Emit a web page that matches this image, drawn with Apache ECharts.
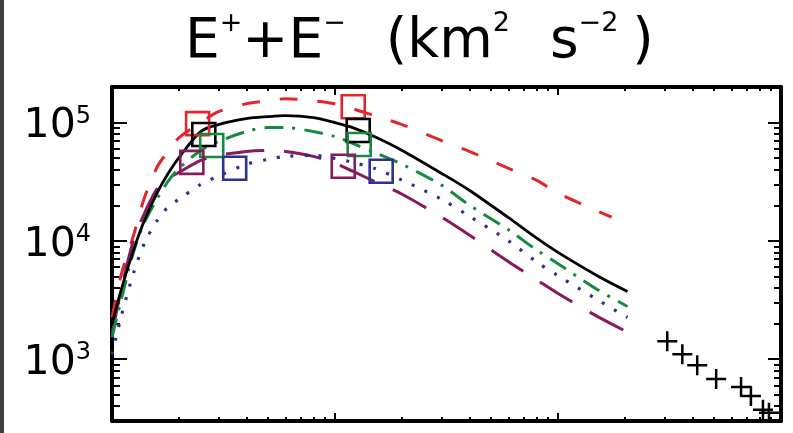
<!DOCTYPE html>
<html><head><meta charset="utf-8">
<script src="https://cdn.jsdelivr.net/npm/echarts@6/dist/echarts.min.js"></script>
<style>html,body{margin:0;padding:0;background:#fff}#c{width:793px;height:433px}</style>
</head><body><div id="c"></div>
<script>
// ---- data ----
const xModel = [1, 1.1, 1.25, 1.4, 1.6, 1.8, 2, 2.5, 3, 4, 5, 6, 8, 10, 12, 15, 20, 30, 40, 60, 80, 100, 150, 205];
const xRed   = [1, 1.1, 1.25, 1.4, 1.6, 1.8, 2, 2.5, 3, 4, 5, 6, 8, 10, 12, 15, 20, 30, 40, 60, 80, 100, 150, 174];
const blackY  = [1970, 3875, 8400, 15000, 25800, 38000, 50800, 84000, 96200, 108000, 112300, 114500, 110200, 100000, 90800, 76300, 58200, 37300, 26800, 15700, 10600, 8000, 5080, 3730];
const redY    = [2250, 5180, 11200, 23400, 42700, 58200, 74800, 100000, 123700, 144400, 153000, 159100, 153000, 144400, 131100, 114500, 96200, 70600, 57100, 41100, 32600, 25300, 17900, 15900];
const greenY  = [1530, 3190, 8080, 14400, 23000, 32600, 41100, 58200, 69200, 84000, 90800, 90800, 84000, 76300, 66600, 56000, 44400, 29600, 20100, 12400, 8400, 6410, 3880, 2790];
const blueY   = [1100, 2300, 5380, 9620, 15000, 19700, 22500, 30100, 35200, 44400, 48900, 51800, 52800, 49800, 46100, 41100, 32600, 22500, 16200, 10000, 6660, 5080, 3190, 2250];
const purpleY = [1620, 3880, 10200, 17200, 27900, 33800, 38000, 47900, 52800, 57100, 58200, 57100, 51800, 45200, 38800, 31900, 24800, 15900, 11200, 6660, 4700, 3590, 2300, 1690];

const sqRed    = [[2.42, 98100], [12.07, 136300]];
const sqBlack  = [[2.58, 79300], [12.71, 85700]];
const sqGreen  = [[2.80, 64100], [12.84, 65300]];
const sqPurple = [[2.28, 46100], [10.89, 42700]];
const sqBlue   = [[3.55, 41100], [16.11, 38800]];

const plusX = [309, 361, 421, 512, 662, 733, 830, 883];
const plusY = [1417, 1102, 890, 679, 582, 489, 373, 352];

const xMajor = [10, 100];
const xMinor = [2,3,4,5,6,7,8,9,20,30,40,50,60,70,80,90,200,300,400,500,600,700,800,900];
const yMajor = [1000, 10000, 100000];
const yMinor = [400,500,600,700,800,900,2000,3000,4000,5000,6000,7000,8000,9000,20000,30000,40000,50000,60000,70000,80000,90000];

// ---- chart ----
const X_MIN = 1, X_MAX = 1000, Y_MIN = 300, Y_MAX = 200000;
const FONT = 'DejaVu Sans';
const pairs = (xs, ys) => xs.map((x, i) => [x, ys[i]]);

function xAx(pos, vals, len, line) {
  return {
    type: 'log', logBase: 10, min: X_MIN, max: X_MAX, position: pos,
    axisLine: { show: line, onZero: false, lineStyle: { color: '#000', width: 4 } },
    axisTick: { show: true, inside: true, length: len, customValues: vals, lineStyle: { color: '#000', width: 2 } },
    axisLabel: { show: false }, splitLine: { show: false }, minorTick: { show: false }
  };
}
function yAx(pos, vals, len, line, labels) {
  return {
    type: 'log', logBase: 10, min: Y_MIN, max: Y_MAX, position: pos,
    axisLine: { show: line, onZero: false, lineStyle: { color: '#000', width: 4 } },
    axisTick: { show: true, inside: true, length: len, customValues: vals, lineStyle: { color: '#000', width: 2 } },
    axisLabel: labels ? {
      show: true, customValues: yMajor, margin: 21, padding: [8, 0, 0, 0],
      formatter: v => '{b|10}{e|' + Math.round(Math.log10(v)) + '}',
      rich: {
        b: { fontFamily: FONT, fontSize: 41, lineHeight: 44, color: '#000', fontWeight: 'normal' },
        e: { fontFamily: FONT, fontSize: 24, lineHeight: 24, verticalAlign: 'top', color: '#000', fontWeight: 'normal' }
      }
    } : { show: false },
    splitLine: { show: false }, minorTick: { show: false }
  };
}

function curve(name, xs, ys, color, type, width) {
  return {
    name, type: 'line', xAxisIndex: 0, yAxisIndex: 0, data: pairs(xs, ys),
    showSymbol: false, smooth: 0.3, z: 3,
    lineStyle: { color, width: width, type: type, cap: 'butt', opacity: 1 }
  };
}
function squares(name, data, color) {
  return {
    name, type: 'scatter', data, symbol: 'rect', symbolSize: 23, z: 5,
    itemStyle: { color: 'rgba(0,0,0,0)', borderColor: color, borderWidth: 2.6, opacity: 1 }
  };
}

const C = { red: '#e3262b', black: '#000000', green: '#168a3e', blue: '#2e3190', purple: '#861a5c' };
const plusPath = 'path://M8.75,0h2.5v8.75h8.75v2.5h-8.75v8.75h-2.5v-8.75h-8.75v-2.5h8.75z';

const option = {
  animation: false,
  backgroundColor: '#fff',
  title: {
    text: '{b|E}{s|+}{b|+E}{s|\u2212}{g1| }{b|(km}{s|2}{g2| }{b|s}{s|\u22122}{g3| }{b|)}',
    left: 185, top: 10, padding: 0,
    textStyle: {
      fontWeight: 'normal',
      rich: {
        b: { fontFamily: FONT, fontSize: 55, lineHeight: 66, color: '#000', fontWeight: 'normal' },
        s: { fontFamily: FONT, fontSize: 27, lineHeight: 32, verticalAlign: 'top', color: '#000', fontWeight: 'normal' },
        g1: { fontSize: 10, width: 40 },
        g2: { fontSize: 10, width: 40 },
        g3: { fontSize: 10, width: 14 }
      }
    }
  },
  grid: { left: 112, right: 12, top: 87, bottom: 12, containLabel: false },
  xAxis: [
    xAx('bottom', xMajor, 8, true), xAx('bottom', xMinor, 4, false),
    xAx('top', xMajor, 8, true), xAx('top', xMinor, 4, false)
  ],
  yAxis: [
    yAx('left', yMajor, 15, true, true), yAx('left', yMinor, 8, false, false),
    yAx('right', yMajor, 13, true, false), yAx('right', yMinor, 7, false, false)
  ],
  graphic: [{ type: 'rect', left: 0, top: 0, shape: { width: 4, height: 433 }, style: { fill: '#3d3d3d' }, z: 100 }],
  series: [
    curve('red', xRed, redY, C.red, [18, 20], 3),
    curve('purple', xModel, purpleY, C.purple, [38, 20], 3),
    curve('blue', xModel, blueY, C.blue, [3, 11], 3.2),
    curve('green', xModel, greenY, C.green, [19, 9, 3, 9], 3),
    curve('black', xModel, blackY, C.black, 'solid', 2.8),
    squares('sqRed', sqRed, C.red),
    squares('sqBlack', sqBlack, C.black),
    squares('sqGreen', sqGreen, C.green),
    squares('sqPurple', sqPurple, C.purple),
    squares('sqBlue', sqBlue, C.blue),
    { name: 'plus', type: 'scatter', data: pairs(plusX, plusY), symbol: plusPath, symbolSize: 20, z: 6,
      itemStyle: { color: '#000', opacity: 1 } }
  ]
};
const chart = echarts.init(document.getElementById('c'));
chart.setOption(option);
</script></body></html>
